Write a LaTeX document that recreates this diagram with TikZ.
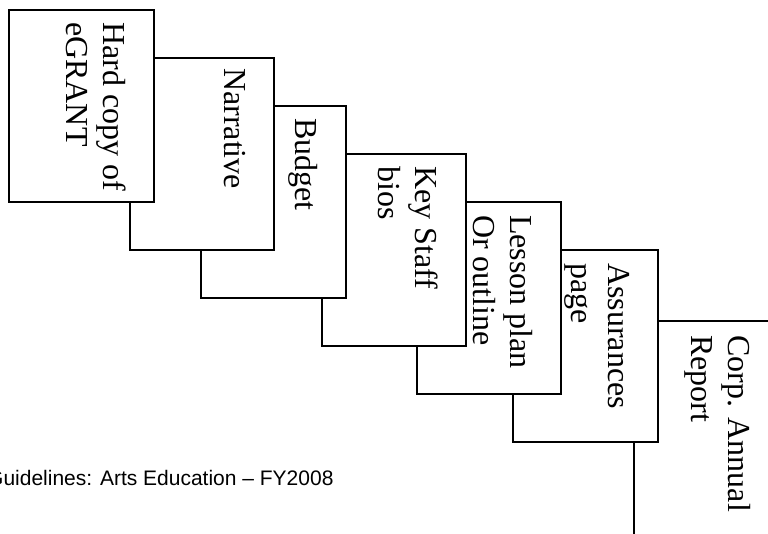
\documentclass[tikz,border=0pt]{standalone}
\usepackage{fontspec}
\setmainfont{Liberation Serif}
\newfontfamily\capfont{Liberation Sans}
\begin{document}
\begin{tikzpicture}[x=1pt,y=-1pt,
  card/.style={draw=black, line width=1.4pt, fill=white},
  cardtext/.style={rotate=-90, anchor=north west, inner sep=0pt, align=left,
    font=\fontsize{32}{37}\selectfont}]
\useasboundingbox (0,0) rectangle (768,533);
\clip (0,0) rectangle (768,533);
% boxes drawn back to front
\draw[card] (634,321) rectangle (779,545);
\draw[card] (513,250) rectangle (658,442);
\draw[card] (417,202) rectangle (561,394);
\draw[card] (322,154) rectangle (466,346);
\draw[card] (201,106) rectangle (346,298);
\draw[card] (130,58) rectangle (274,250);
\draw[card] (9,10) rectangle (154,202);
% texts
\node[cardtext] (t1) at (126,22) {Hard copy of\\eGRANT};
\node[cardtext] (t2) at (246,68) {Narrative};
\node[cardtext] (t3) at (318,118) {Budget};
\node[cardtext] (t4) at (438,166) {Key Staff\\bios};
\node[cardtext] (t5) at (533,215) {Lesson plan\\Or outline};
\node[cardtext] (t6) at (630,263) {Assurances\\page};
\node[cardtext] (t7) at (751,335) {Corp. Annual\\Report};
\node[anchor=base west, inner sep=0pt, font=\capfont\fontsize{21}{25}\selectfont] (cap) at (-13,485) {Guidelines: Arts Education – FY2008};
\end{tikzpicture}
\end{document}
